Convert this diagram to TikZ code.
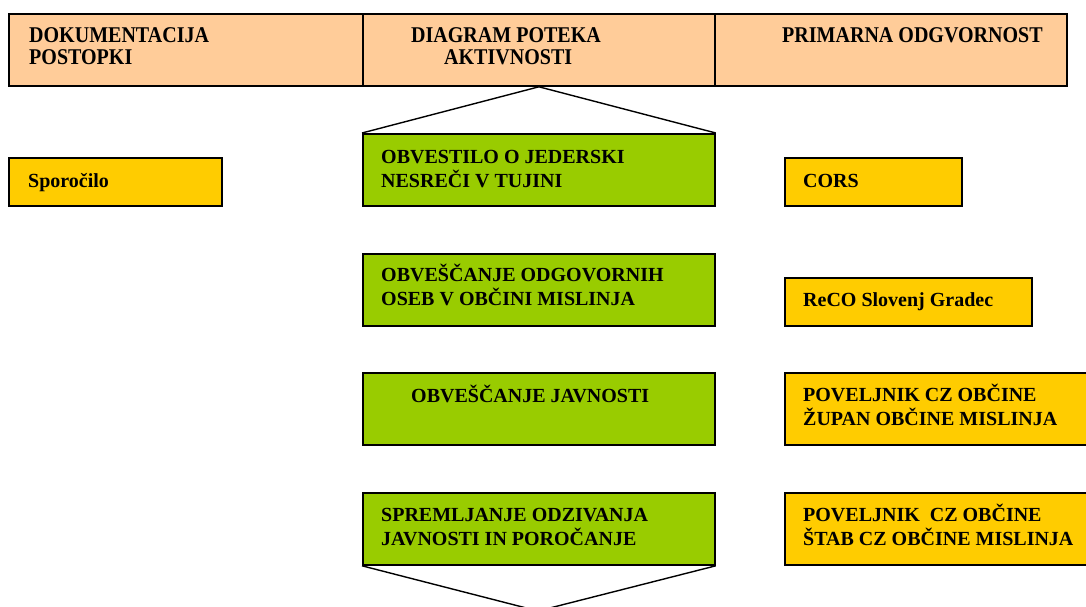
\documentclass[tikz,border=0pt]{standalone}
\usepackage{fontspec}
\setmainfont{Liberation Serif}
\newfontfamily\hdrfont[FakeStretch=0.89]{Liberation Serif}
\newcommand{\twolines}[2]{\vtop{\baselineskip=24pt\hbox{#1}\hbox{#2}}}
\newcommand{\twohdr}[2]{\vtop{\baselineskip=21.5pt\hbox{#1}\hbox{#2}}}
\definecolor{peach}{HTML}{FFCC99}
\definecolor{leaf}{HTML}{99CC00}
\definecolor{gold}{HTML}{FFCC00}
\begin{document}
\begin{tikzpicture}[x=1pt,y=-1pt,
  box/.style={draw=black,line width=1.8pt,inner sep=0pt,anchor=north west},
  hdrcell/.style={box,fill=peach,minimum height=72pt},
  actbox/.style={box,fill=leaf,minimum width=352pt,minimum height=72pt},
  docbox/.style={box,fill=gold},
  txt/.style={anchor=base west,inner sep=0pt,font=\fontsize{20}{24}\selectfont\bfseries},
  htxt/.style={anchor=base west,inner sep=0pt,font=\hdrfont\fontsize{22.5}{21.5}\selectfont\bfseries},
  edge/.style={draw=black,line width=1.4pt}]
\clip (0,0) rectangle (1086,607);
\fill[white] (0,0) rectangle (1086,607);
% header
\node[hdrcell,minimum width=354pt] (h1) at (8,13) {};
\node[hdrcell,minimum width=352pt] (h2) at (362,13) {};
\node[hdrcell,minimum width=352pt] (h3) at (714,13) {};
\node[htxt] (ht1) at (29,43) {\twohdr{DOKUMENTACIJA}{POSTOPKI}};
\node[htxt] (ht2) at (411,43) {DIAGRAM POTEKA};
\node[htxt] (ht2b) at (444,64.5) {AKTIVNOSTI};
\node[htxt] (ht3) at (782,43) {PRIMARNA ODGVORNOST};
% activity boxes
\node[actbox] (a1) at (362,133) {};
\node[actbox] (a2) at (362,253) {};
\node[actbox] (a3) at (362,372) {};
\node[actbox] (a4) at (362,492) {};
\node[txt] (at1) at (381,163) {\twolines{OBVESTILO O JEDERSKI}{NESREČI V TUJINI}};
\node[txt] (at2) at (381,281) {\twolines{OBVEŠČANJE ODGOVORNIH}{OSEB V OBČINI MISLINJA}};
\node[txt] (at3) at (411,402) {OBVEŠČANJE JAVNOSTI};
\node[txt] (at4) at (381,521) {\twolines{SPREMLJANJE ODZIVANJA}{JAVNOSTI IN POROČANJE}};
% triangles
\coordinate (top) at (h2.south);
\coordinate (bot) at (538,611);
\draw[edge] (a1.north west) -- (top) -- (a1.north east);
\draw[edge] (a4.south west) -- (bot) -- (a4.south east);
% documentation / responsibility boxes
\node[docbox,minimum width=213pt,minimum height=48pt] (d1) at (8,157) {};
\node[txt] (dt1) at (28,187) {Sporočilo};
\node[docbox,minimum width=177pt,minimum height=48pt] (r1) at (784,157) {};
\node[txt] (rt1) at (803,187) {CORS};
\node[docbox,minimum width=247pt,minimum height=48pt] (r2) at (784,277) {};
\node[txt] (rt2) at (803,306) {ReCO Slovenj Gradec};
\node[docbox,minimum width=330pt,minimum height=72pt] (r3) at (784,372) {};
\node[txt] (rt3) at (803,401) {\twolines{POVELJNIK CZ OBČINE}{ŽUPAN OBČINE MISLINJA}};
\node[docbox,minimum width=330pt,minimum height=72pt] (r4) at (784,492) {};
\node[txt] (rt4) at (803,521) {\twolines{POVELJNIK\ \ CZ OBČINE}{ŠTAB CZ OBČINE MISLINJA}};
\end{tikzpicture}
\end{document}
